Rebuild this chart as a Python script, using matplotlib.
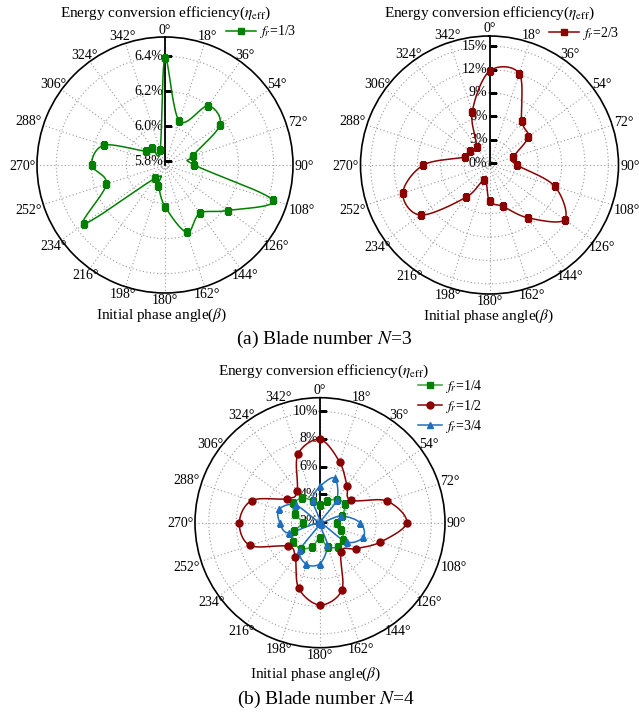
import numpy as np
import matplotlib
matplotlib.use("Agg")
import matplotlib.pyplot as plt

plt.rcParams['font.family'] = ['Liberation Serif', 'DejaVu Serif']
plt.rcParams['mathtext.fontset'] = 'stix'

# initial phase angle (deg)
beta = np.arange(0, 360, 18)

# N = 3 blades
eff_n3_fr13 = [6.39, 6.044, 6.197, 6.167, 5.948, 5.948, 6.425, 6.222, 6.12, 6.184,
               6.017, 5.904, 5.873, 6.35, 6.131, 6.198, 6.145, 5.914, 5.903, 5.87]
eff_n3_fr23 = [11.8, 12.09, 6.79, 5.9, 2.97, 3.29, 8.53, 11.67, 8.12, 5.34,
               4.43, 1.84, 4.88, 10.67, 11.45, 8.22, 3.06, 2.87, 2.54, 6.92]

# N = 4 blades
eff_n4_fr14 = [3.2, 3.57, 4.0, 4.2, 3.6, 3.15, 3.55, 4.0, 4.1, 3.75,
               3.05, 3.75, 4.25, 4.3, 3.9, 3.15, 3.85, 4.3, 4.12, 3.6]
eff_n4_fr12 = [7.97, 6.55, 5.25, 4.70, 7.02, 8.22, 6.51, 5.13, 4.53, 7.06,
               7.9, 6.93, 4.97, 4.83, 7.26, 7.78, 7.13, 4.88, 4.75, 7.13]
eff_n4_fr34 = [4.55, 5.33, 4.0, 2.0, 3.5, 4.84, 5.24, 4.3, 2.0, 3.64,
               4.89, 5.1, 4.38, 2.0, 4.3, 4.84, 5.05, 4.11, 2.0, 3.66]

ticks_n3_fr13 = [5.8, 6.0, 6.2, 6.4]
labels_n3_fr13 = ['5.8%', '6.0%', '6.2%', '6.4%']
ticks_n3_fr23 = [0, 3, 6, 9, 12, 15]
labels_n3_fr23 = ['0%', '3%', '6%', '9%', '12%', '15%']
ticks_n4 = [2, 4, 6, 8, 10]
labels_n4 = ['2%', '4%', '6%', '8%', '10%']

TITLE = r'Energy conversion efficiency($\eta_{\rm eff}$)'
XLAB = r'Initial phase angle($\beta$)'

FS = 10.0            # tick label size (pt)
FS_PX = FS * 100 / 72


def smooth_closed(theta_deg, r, rmin, n=24):
    """Closed Catmull-Rom curve through the points, built in the plane."""
    th = np.deg2rad(np.asarray(theta_deg, float))
    rho = np.asarray(r, float) - rmin
    P = np.column_stack([rho * np.sin(th), rho * np.cos(th)])
    N = len(P)
    t = np.linspace(0, 1, n, endpoint=False)[:, None]
    segs = []
    for i in range(N):
        p0, p1, p2, p3 = P[i - 1], P[i], P[(i + 1) % N], P[(i + 2) % N]
        seg = 0.5 * (2 * p1 + (-p0 + p2) * t
                     + (2 * p0 - 5 * p1 + 4 * p2 - p3) * t ** 2
                     + (-p0 + 3 * p1 - 3 * p2 + p3) * t ** 3)
        segs.append(seg)
    segs.append(P[:1])
    xy = np.vstack(segs)
    return np.arctan2(xy[:, 0], xy[:, 1]), np.hypot(xy[:, 0], xy[:, 1]) + rmin


def angle_labels(ax, rmax):
    for a in range(0, 360, 18):
        s, c = np.sin(np.deg2rad(a)), np.cos(np.deg2rad(a))
        hw = (0.5 * len(str(a)) + 0.4) * FS_PX / 2
        hh = 0.33 * FS_PX
        cand = []
        if abs(s) > 1e-6:
            cand.append(hw / abs(s))
        if abs(c) > 1e-6:
            cand.append(hh / abs(c))
        d = min(cand) + 1.5 + (2.0 if c > 0 else 0.8) * c * c
        ax.annotate(f'{a}°', xy=(np.deg2rad(a), rmax), xytext=(d * s, d * c - hh),
                    textcoords='offset pixels', ha='center', va='baseline',
                    fontsize=FS, annotation_clip=False)


def setup(ax, rmin, rmax, rticks, rlabels):
    ax.set_theta_zero_location('N')
    ax.set_theta_direction(-1)
    ax.set_rlim(rmin, rmax)
    ax.set_thetagrids(np.arange(0, 360, 18))
    ax.set_xticklabels([])
    ax.set_rticks(rticks)
    ax.set_yticklabels([])
    ax.grid(True, color='#9a9a9a', lw=0.8, ls=(0, (1, 2.2)))
    ax.spines['polar'].set_linewidth(1.2)
    ax.tick_params(axis='x', direction='in', length=6, width=1)
    ax.tick_params(axis='y', length=0)
    ax.plot([0, 0], [rmin, rmax], color='k', lw=1.3, zorder=4)
    ax.plot(np.zeros(len(rticks)), rticks, ls='none', marker=1, ms=5, mew=1,
            color='k', zorder=4)
    for v, lab in zip(rticks, rlabels):
        ax.annotate(lab, xy=(0, v), xytext=(-1.5, 0), textcoords='offset points',
                    ha='right', va='center', fontsize=FS, zorder=3)
    angle_labels(ax, rmax)


def series(ax, vals, rmin, color, mcolor, marker, label, ms=5):
    th, rr = smooth_closed(beta, vals, rmin)
    ax.plot(th, rr, color=color, lw=1.1, zorder=5)
    ax.plot(np.deg2rad(beta), vals, ls='none', marker=marker, ms=ms,
            color=mcolor, zorder=6)
    # legend proxy
    ax.plot([], [], color=color, lw=1.1, marker=marker, ms=ms, mfc=mcolor,
            mec=mcolor, label=label)


fig = plt.figure(figsize=(6.39, 7.13), dpi=100)
W, H = 639.0, 713.0


def polar_at(cx, cy, R):
    return fig.add_axes([(cx - R) / W, 1 - (cy + R) / H, 2 * R / W, 2 * R / H],
                        projection='polar')


GREEN = '#008000'
RED = '#8b0000'
BLUE = '#1f6fbf'

leg_kw = dict(bbox_transform=fig.transFigure, frameon=False, fontsize=FS,
              handletextpad=0.2, borderpad=0, borderaxespad=0)

# (a) left: N=3, fr=1/3
r0a, r1a = 5.78, 6.51
ax1 = polar_at(165, 165, 128)
setup(ax1, r0a, r1a, ticks_n3_fr13, labels_n3_fr13)
series(ax1, eff_n3_fr13, r0a, GREEN, GREEN, 's', r'$f_r$=1/3')
ax1.legend(loc='center left', bbox_to_anchor=(226 / W, 1 - 32 / H),
           handlelength=2.15, **leg_kw)

# (a) right: N=3, fr=2/3
r0b, r1b = -0.25, 16.3
ax2 = polar_at(489.5, 165, 129)
setup(ax2, r0b, r1b, ticks_n3_fr23, labels_n3_fr23)
series(ax2, eff_n3_fr23, r0b, RED, RED, 's', r'$f_r$=2/3')
ax2.legend(loc='center left', bbox_to_anchor=(549 / W, 1 - 33 / H),
           handlelength=2.15, **leg_kw)

# (b): N=4
r0c, r1c = 1.92, 11.0
ax3 = polar_at(320, 522.7, 125)
setup(ax3, r0c, r1c, ticks_n4, labels_n4)
series(ax3, eff_n4_fr14, r0c, '#3aa03a', GREEN, 's', r'$f_r$=1/4')
series(ax3, eff_n4_fr12, r0c, RED, RED, 'o', r'$f_r$=1/2')
series(ax3, eff_n4_fr34, r0c, BLUE, BLUE, '^', r'$f_r$=3/4')
ax3.legend(loc='upper left', bbox_to_anchor=(418 / W, 1 - 378 / H),
           handlelength=1.75, labelspacing=0.2, **leg_kw)

# titles, axis names and captions
FT = 11
fig.text(165 / W, 1 - 13 / H, TITLE, ha='center', va='center', fontsize=FT)
fig.text(489 / W, 1 - 13 / H, TITLE, ha='center', va='center', fontsize=FT)
fig.text(323 / W, 1 - 371 / H, TITLE, ha='center', va='center', fontsize=FT)
fig.text(162 / W, 1 - 315 / H, XLAB, ha='center', va='center', fontsize=FT)
fig.text(489 / W, 1 - 316.5 / H, XLAB, ha='center', va='center', fontsize=FT)
fig.text(316 / W, 1 - 674.5 / H, XLAB, ha='center', va='center', fontsize=FT)
fig.text(324 / W, 1 - 339 / H, r'(a) Blade number $N$=3', ha='center', va='center',
         fontsize=14)
fig.text(326 / W, 1 - 699 / H, r'(b) Blade number $N$=4', ha='center', va='center',
         fontsize=14)

fig.savefig('out.png', dpi=100)
